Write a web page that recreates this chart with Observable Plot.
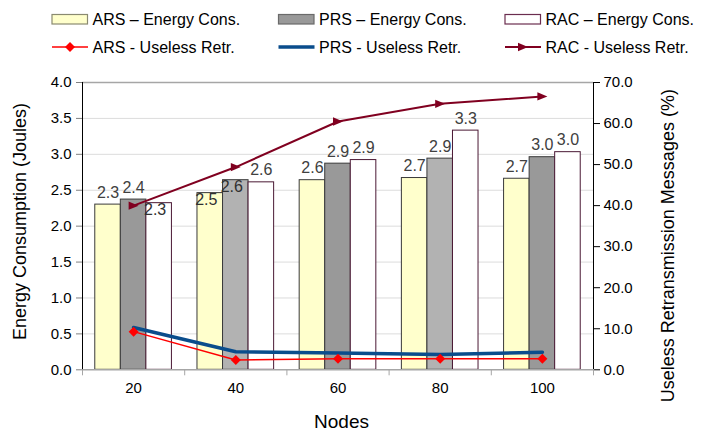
<!DOCTYPE html>
<html>
<head>
<meta charset="utf-8">
<script src="https://cdn.jsdelivr.net/npm/d3@7"></script>
<script src="https://cdn.jsdelivr.net/npm/@observablehq/plot@0.6"></script>
<style>
  body { margin: 0; background: #fff; }
  svg { display: block; }
</style>
</head>
<body>
<div id="legend"></div>
<div id="chart"></div>
<script>
// ---- data ----
const nodes = [20, 40, 60, 80, 100];
const seriesNames = ["ARS", "PRS", "RAC"];
const arsEnergy = [2.30, 2.46, 2.64, 2.67, 2.66];
const prsEnergy = [2.37, 2.64, 2.87, 2.94, 2.96];
const racEnergy = [2.32, 2.61, 2.92, 3.33, 3.03];
const arsUseless = [9.3, 2.4, 2.7, 2.7, 2.7];
const prsUseless = [10.3, 4.4, 4.1, 3.7, 4.3];
const racUseless = [40.0, 49.4, 60.5, 64.8, 66.6];
const leftTicks = [0, 0.5, 1, 1.5, 2, 2.5, 3, 3.5, 4];
const rightTicks = [0, 10, 20, 30, 40, 50, 60, 70];

const FONT = "'Liberation Sans', Arial, Helvetica, sans-serif";
const Y_MAX = 4, P_MAX = 70;
const toY = p => p * Y_MAX / P_MAX;

const energy = [arsEnergy, prsEnergy, racEnergy];
const rows = [];
seriesNames.forEach((s, j) => nodes.forEach((n, i) => rows.push({series: s, j, i, node: n, value: energy[j][i]})));

const GROUP_PAD = 0.125, BAR_W = 0.25;
const barX1 = d => d.i + GROUP_PAD + d.j * BAR_W;
const barX2 = d => d.i + GROUP_PAD + (d.j + 1) * BAR_W;
const barXc = d => d.i + GROUP_PAD + (d.j + 0.5) * BAR_W;
const catX = (d, i) => i + 0.5;

const barFill = d => d.j === 0 ? "#ffffcc" : d.j === 1 ? (d.i % 2 ? "#b2b2b2" : "#999999") : "#ffffff";
const barStroke = d => d.j === 2 ? "#4a1834" : "#3a3a3a";

// labels that the original places inside the bar top
const insideLabels = new Set(["RAC|20", "ARS|40", "PRS|40"]);
const isInside = d => insideLabels.has(d.series + "|" + d.node);

// right-pointing triangle symbol
const triRight = {
  draw(ctx, size) {
    const r = Math.sqrt(size / Math.PI);
    ctx.moveTo(r, 0);
    ctx.lineTo(-r, -0.83 * r);
    ctx.lineTo(-r, 0.83 * r);
    ctx.closePath();
  }
};

// ---- legend ----
const leg = d3.create("svg").attr("width", 702).attr("height", 62)
  .style("font-family", FONT).style("font-size", "16px");
const cols = [52, 278.5, 505];
const swatches = [
  {fill: "#ffffcc", stroke: "#8a8a70"},
  {fill: "#999999", stroke: "#6a6a6a"},
  {fill: "#ffffff", stroke: "#6b2d4f"}
];
const lineStyles = [
  {stroke: "#ff0000", width: 1.5, symbol: d3.symbolDiamond2, r: 4.5},
  {stroke: "#0a4d8c", width: 3.5, symbol: null},
  {stroke: "#800020", width: 2, symbol: triRight, r: 5}
];
seriesNames.forEach((s, j) => {
  const x = cols[j];
  leg.append("rect").attr("x", x).attr("y", 14.5).attr("width", 35.5).attr("height", 9.5)
    .attr("fill", swatches[j].fill).attr("stroke", swatches[j].stroke).attr("stroke-width", 1.2);
  leg.append("text").attr("x", x + 40.5).attr("y", 25).attr("fill", "#000").text(s + " \u2013 Energy Cons.");
  const ls = lineStyles[j];
  leg.append("line").attr("x1", x).attr("x2", x + 36).attr("y1", 47).attr("y2", 47)
    .attr("stroke", ls.stroke).attr("stroke-width", ls.width);
  if (ls.symbol) {
    leg.append("path").attr("transform", `translate(${x + 18},47)`)
      .attr("d", d3.symbol(ls.symbol, Math.PI * ls.r * ls.r)()).attr("fill", ls.stroke);
  }
  leg.append("text").attr("x", x + 40.5).attr("y", 52.5).attr("fill", "#000").text(s + " - Useless Retr.");
});
document.getElementById("legend").append(leg.node());

// ---- chart ----
const chart = Plot.plot({
  width: 702,
  height: 370,
  marginLeft: 82,
  marginRight: 109,
  marginTop: 20,
  marginBottom: 62.7,
  x: {domain: [0, nodes.length], axis: null},
  y: {domain: [0, Y_MAX], axis: null},
  color: {type: "identity"},
  style: {fontFamily: FONT, fontSize: "15px", color: "#000", background: "#fff"},
  marks: [
    Plot.gridY(leftTicks.filter(t => t > 0 && t < Y_MAX), {stroke: "#dcdcdc", strokeOpacity: 1}),
    Plot.ruleY([Y_MAX], {stroke: "#a6a6a6", strokeWidth: 1.5}),
    Plot.rect(rows, {x1: barX1, x2: barX2, y1: 0, y2: "value", fill: barFill, stroke: barStroke, strokeWidth: 1}),
    Plot.ruleY([0], {stroke: "#a6a6a6", strokeWidth: 1.5}),
    Plot.ruleX([0, nodes.length], {stroke: "#000", strokeWidth: 1}),
    // lines on the right (percent) axis
    Plot.line(prsUseless, {x: catX, y: toY, stroke: "#0a4d8c", strokeWidth: 3.5}),
    Plot.line(arsUseless, {x: catX, y: toY, stroke: "#ff0000", strokeWidth: 1.5}),
    Plot.dot(arsUseless, {x: catX, y: toY, symbol: "diamond2", r: 4.5, fill: "#ff0000"}),
    Plot.line(racUseless, {x: catX, y: toY, stroke: "#800020", strokeWidth: 2}),
    Plot.dot(racUseless, {x: catX, y: toY, symbol: triRight, r: 5, fill: "#800020"}),
    // value labels
    Plot.text(rows, {filter: d => !isInside(d), x: barXc, y: "value", text: d => d.value.toFixed(1),
      fill: "#404040", fontSize: 16, lineAnchor: "bottom", dy: -7}),
    Plot.text(rows, {filter: isInside, x: barXc, y: "value", text: d => d.value.toFixed(1),
      fill: "#303030", fontSize: 16, lineAnchor: "top", dy: 0.5, dx: -4}),
    // axes
    Plot.axisY(leftTicks, {anchor: "left", tickSize: 6, tickPadding: 5, stroke: "#808080",
      tickFormat: d => d.toFixed(1), label: null, fontSize: 15}),
    Plot.axisY(rightTicks.map(toY), {anchor: "right", tickSize: 6, tickPadding: 4, stroke: "#000",
      tickFormat: d => (d * P_MAX / Y_MAX).toFixed(1), label: null, fontSize: 15}),
    Plot.axisX(d3.range(nodes.length + 1), {tickSize: 6, stroke: "#a6a6a6", tickFormat: () => "", label: null}),
    Plot.axisX(nodes.map((n, i) => i + 0.5), {tickSize: 0, tickPadding: 13,
      tickFormat: d => String(nodes[Math.round(d - 0.5)]), label: null, fontSize: 15}),
    // axis titles
    Plot.text(["Energy Consumption (Joules)"], {frameAnchor: "left", rotate: -90, dx: -62, dy: -4.7,
      textAnchor: "middle", lineAnchor: "middle", fontSize: 18, fill: "#000"}),
    Plot.text(["Useless Retransmission Messages (%)"], {frameAnchor: "right", rotate: -90, dx: 75, dy: 19.5,
      textAnchor: "middle", lineAnchor: "middle", fontSize: 18, fill: "#000"}),
    Plot.text(["Nodes"], {frameAnchor: "bottom", dx: 3.5, dy: 51.7,
      textAnchor: "middle", lineAnchor: "middle", fontSize: 19, fill: "#000"})
  ]
});
document.getElementById("chart").append(chart);
</script>
</body>
</html>
